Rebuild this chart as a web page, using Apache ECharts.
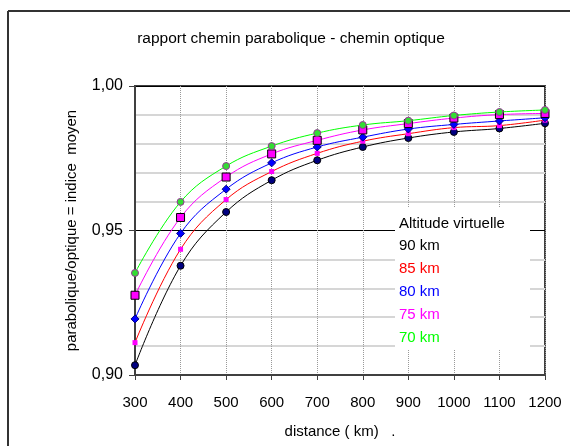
<!DOCTYPE html>
<html>
<head>
<meta charset="utf-8">
<script src="https://cdn.jsdelivr.net/npm/echarts@6/dist/echarts.min.js"></script>
<style>html,body{margin:0;padding:0;background:#fff}#c{width:570px;height:446px}</style>
</head>
<body>
<div id="c"></div>
<script>
var FONT = '"Liberation Sans", Arial, sans-serif';
var distances = [300, 400, 500, 600, 700, 800, 900, 1000, 1100, 1200];
var seriesNames = ['90 km', '85 km', '80 km', '75 km', '70 km'];
var alt90 = [0.9034, 0.9378, 0.9564, 0.9674, 0.9743, 0.9789, 0.9820, 0.9841, 0.9853, 0.9871];
var alt85 = [0.9112, 0.9435, 0.9607, 0.9704, 0.9767, 0.9809, 0.9835, 0.9856, 0.9863, 0.9882];
var alt80 = [0.9194, 0.9490, 0.9643, 0.9734, 0.9789, 0.9823, 0.9851, 0.9867, 0.9879, 0.9890];
var alt75 = [0.9276, 0.9545, 0.9685, 0.9765, 0.9812, 0.9848, 0.9870, 0.9889, 0.9901, 0.9905];
var alt70 = [0.9353, 0.9599, 0.9723, 0.9792, 0.9837, 0.9865, 0.9880, 0.9898, 0.9910, 0.9917];
var lineColors = ['#000000', '#ff0000', '#0000ff', '#ff00ff', '#00ff00'];
var allValues = [alt90, alt85, alt80, alt75, alt70];

function pairs(vals) { return distances.map(function (d, i) { return [d, vals[i]]; }); }

var markers = [
  { symbol: 'circle', symbolSize: 7, itemStyle: { color: '#000080', borderColor: '#000000', borderWidth: 1 } },
  { symbol: 'rect', symbolSize: 5, itemStyle: { color: '#ff00ff', borderWidth: 0 } },
  { symbol: 'diamond', symbolSize: 8, itemStyle: { color: '#0000ff', borderColor: '#000080', borderWidth: 1 } },
  { symbol: 'rect', symbolSize: 8, itemStyle: { color: '#ff00ff', borderColor: '#000000', borderWidth: 1 } },
  { symbol: 'circle', symbolSize: 7, itemStyle: { color: '#33dd33', borderColor: '#993399', borderWidth: 1 } }
];

var series = seriesNames.map(function (name, i) {
  return {
    name: name,
    type: 'line',
    smooth: 0.4,
    data: pairs(allValues[i]),
    symbol: markers[i].symbol,
    symbolSize: markers[i].symbolSize,
    itemStyle: markers[i].itemStyle,
    lineStyle: { color: lineColors[i], width: 1 },
    z: 2 + i,
    animation: false
  };
});

var chart = echarts.init(document.getElementById('c'));
chart.setOption({
  animation: false,
  backgroundColor: '#ffffff',
  title: {
    text: 'rapport chemin parabolique - chemin optique',
    left: 291, top: 31, textAlign: 'center', padding: 0,
    textStyle: { fontFamily: FONT, fontSize: 15.5, fontWeight: 'normal', color: '#000' }
  },
  grid: { left: 135, top: 86, right: 25, bottom: 71, show: true, borderColor: '#404040', borderWidth: 2, backgroundColor: 'transparent' },
  xAxis: {
    type: 'value', min: 300, max: 1200, interval: 100,
    name: 'distance ( km)   .', nameLocation: 'middle', nameGap: 49,
    nameTextStyle: { fontFamily: FONT, fontSize: 15, color: '#000' },
    axisLine: { lineStyle: { color: '#404040', width: 2 } },
    axisTick: { show: true, length: 5, lineStyle: { color: '#404040' } },
    axisLabel: { fontFamily: FONT, fontSize: 15, color: '#000', margin: 20,
      formatter: function (v) { return String(v); } },
    splitLine: { show: true, lineStyle: { color: '#999999', width: 1, type: [1, 1] } }
  },
  yAxis: {
    type: 'value', min: 0.9, max: 1.0, interval: 0.05,
    name: 'parabolique/optique = indice  moyen', nameLocation: 'middle', nameGap: 56, nameRotate: 90,
    nameTextStyle: { fontFamily: FONT, fontSize: 15, color: '#000' },
    axisLine: { show: true, lineStyle: { color: '#404040', width: 2 } },
    axisTick: { show: true, length: 6, lineStyle: { color: '#404040' } },
    axisLabel: { fontFamily: FONT, fontSize: 16, color: '#000', margin: 12,
      formatter: function (v) { return v.toFixed(2).replace('.', ','); } },
    splitLine: { show: true, lineStyle: { color: '#000000', width: 1 } },
    minorTick: { show: false, splitNumber: 5 },
    minorSplitLine: { show: true, lineStyle: { color: '#d6d6d6', width: 2 } }
  },
  legend: {
    orient: 'vertical', left: 389, top: 233, icon: 'none', itemWidth: 0, itemHeight: 14, itemGap: 8,
    selectedMode: false, z: 10,
    textStyle: { fontFamily: FONT, fontSize: 15 },
    data: seriesNames.map(function (n, i) { return { name: n, textStyle: { color: lineColors[i] } }; })
  },
  graphic: [
    { type: 'line', z: 20, shape: { x1: 8, y1: 11, x2: 570, y2: 11 }, style: { stroke: '#333', lineWidth: 2 } },
    { type: 'line', z: 20, shape: { x1: 8, y1: 11, x2: 8, y2: 446 }, style: { stroke: '#333', lineWidth: 2 } },
    { type: 'rect', z: 5, shape: { x: 395, y: 208, width: 135, height: 141 }, style: { fill: '#ffffff' } },
    { type: 'text', z: 11, x: 399, y: 224, style: { text: 'Altitude virtuelle', fontFamily: FONT, fontSize: 15, fill: '#000', verticalAlign: 'middle' } }
  ],
  series: series
});
</script>
</body>
</html>
